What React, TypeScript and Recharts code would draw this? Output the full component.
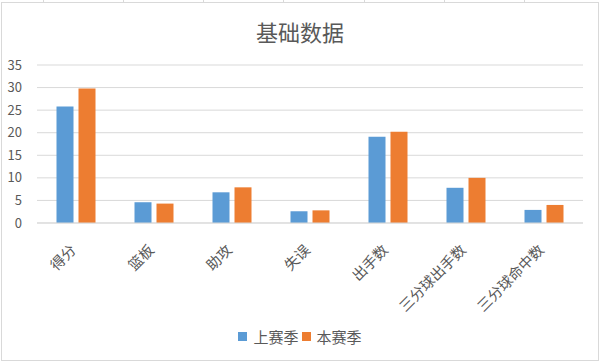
import React from "react";
import { BarChart, Bar, XAxis, YAxis, CartesianGrid } from "recharts";

const categories = ["得分", "篮板", "助攻", "失误", "出手数", "三分球出手数", "三分球命中数"];
const lastSeason = [25.8, 4.6, 6.8, 2.6, 19.1, 7.8, 2.9];
const thisSeason = [29.8, 4.3, 7.9, 2.8, 20.2, 10.0, 4.0];
const yTicks = [0, 5, 10, 15, 20, 25, 30, 35];
const seriesNames = ["上赛季", "本赛季"];
const seriesColors = ["#5B9BD5", "#ED7D31"];
const title = "基础数据";

const data = categories.map((c, i) => ({ name: c, a: lastSeason[i], b: thisSeason[i] }));

const FONT = "'Noto Sans CJK SC', 'Microsoft YaHei', sans-serif";
const TXT = "#595959";

const XTick = (props: any) => {
  const { x, y, payload } = props;
  const ax = x + 1;
  const ay = y + 20;
  return (
    <text
      x={ax}
      y={ay}
      transform={`rotate(-45, ${ax}, ${ay})`}
      textAnchor="end"
      fill={TXT}
      fontSize={14.5}
      fontFamily={FONT}
    >
      {payload.value}
    </text>
  );
};

const topTicks = [43, 123, 203, 283, 364, 444, 524];

export default function App() {
  return (
    <div style={{ position: "absolute", left: 0, top: 0, width: 600, height: 363, background: "#fff", overflow: "hidden" }}>
      {topTicks.map((t) => (
        <div key={t} style={{ position: "absolute", left: t, top: 0, width: 1, height: 3, background: "#D9D9D9" }} />
      ))}
      <div style={{ position: "absolute", left: 1, top: 2, width: 596, height: 357, border: "1px solid #D9D9D9" }} />
      <div style={{ position: "absolute", left: 0, top: 15, width: 600, textAlign: "center", fontFamily: FONT, fontSize: 22, color: TXT }}>
        {title}
      </div>
      <div style={{ position: "absolute", left: 0, top: 0 }}>
        <BarChart
          width={600}
          height={363}
          data={data}
          margin={{ top: 65, right: 17, left: 0, bottom: 0 }}
          barGap={5}
          barCategoryGap="25%"
        >
          <CartesianGrid vertical={false} stroke="#D9D9D9" strokeWidth={1} />
          <XAxis
            dataKey="name"
            tick={<XTick />}
            tickLine={false}
            axisLine={{ stroke: "#D9D9D9" }}
            interval={0}
            height={140}
          />
          <YAxis
            domain={[0, 35]}
            ticks={yTicks}
            interval={0}
            width={37}
            tickLine={false}
            axisLine={false}
            tick={{ fill: TXT, fontSize: 13, fontFamily: FONT }}
            tickMargin={9}
          />
          <Bar dataKey="a" name={seriesNames[0]} fill={seriesColors[0]} isAnimationActive={false} />
          <Bar dataKey="b" name={seriesNames[1]} fill={seriesColors[1]} isAnimationActive={false} />
        </BarChart>
      </div>
      <div style={{ position: "absolute", left: 0, top: 326, width: 600, display: "flex", justifyContent: "center", alignItems: "center", fontFamily: FONT, fontSize: 15, color: TXT }}>
        {seriesNames.map((n, i) => (
          <span key={n} style={{ display: "inline-flex", alignItems: "center", marginRight: i === 0 ? 3 : 0 }}>
            <span style={{ width: 9, height: 9, background: seriesColors[i], display: "inline-block", marginRight: 6 }} />
            {n}
          </span>
        ))}
      </div>
    </div>
  );
}
